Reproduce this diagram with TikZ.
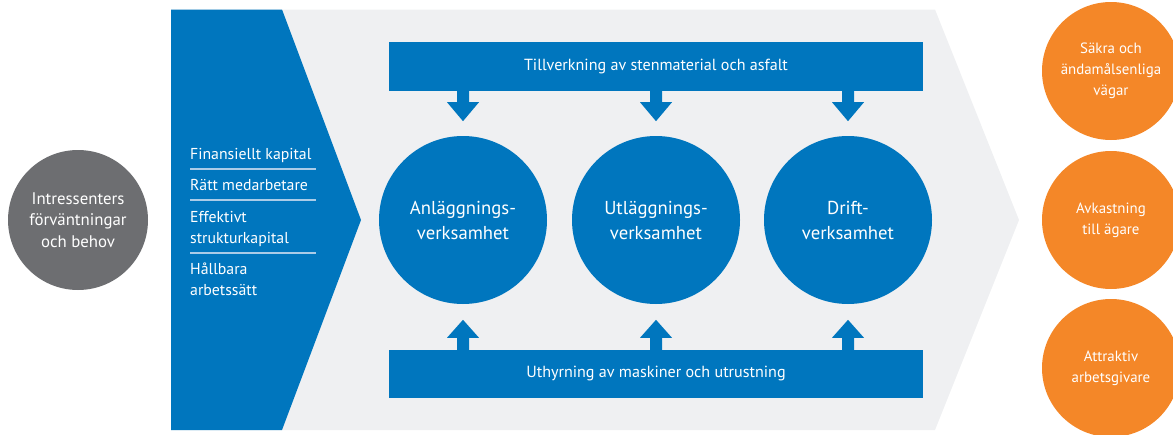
\documentclass[tikz,border=0pt]{standalone}
\usepackage{fontspec}
\setmainfont{PT Sans}
\definecolor{nccblue}{RGB}{0,118,190}
\definecolor{bggray}{RGB}{239,240,242}
\definecolor{darkgray}{RGB}{109,110,113}
\definecolor{nccorange}{RGB}{244,135,40}
\definecolor{seplight}{RGB}{170,204,232}
\tikzset{
  circ/.style={circle, inner sep=0pt, text=white, align=center},
  bluecirc/.style={circ, fill=nccblue, minimum size=168pt, font=\fontsize{18.7}{25}\selectfont},
  graycirc/.style={circ, fill=darkgray, minimum size=140pt, font=\fontsize{16.8}{21.5}\selectfont},
  orangecirc/.style={circ, fill=nccorange, minimum size=138pt, font=\fontsize{14.9}{21}\selectfont},
  bar/.style={rectangle, fill=nccblue, inner sep=0pt, minimum width=534pt, text=white, font=\fontsize{16.1}{19}\selectfont},
  listtext/.style={anchor=base west, inner sep=0pt, text=white, font=\fontsize{15.8}{21}\selectfont, align=left},
  sepline/.style={draw=seplight, line width=1.5pt},
  blockarrow/.style={fill=nccblue}
}
\begin{document}
\begin{tikzpicture}[x=1pt,y=-1pt]
\useasboundingbox (0,0) rectangle (1173,434);
% background chevron
\fill[bggray] (171,9.5) -- (935,9.5) -- (1019,220) -- (935,430) -- (171,430) -- cycle;
% blue input chevron
\fill[nccblue] (171,9.5) -- (282,9.5) -- (361,220) -- (282,430) -- (171,430) -- cycle;
% left gray circle
\node[graycirc] (stake) at (78,220) {Intressenters\\förväntningar\\och behov};
% list (base anchor = baseline of the last line)
\node[listtext] (l1) at (190,159) {Finansiellt kapital};
\node[listtext] (l2) at (190,190) {Rätt medarbetare};
\node[listtext] (l3) at (190,243) {Effektivt\\strukturkapital};
\node[listtext] (l4) at (190,295) {Hållbara\\arbetssätt};
\coordinate (s1a) at (190,169); \coordinate (s1b) at (316,169);
\coordinate (s2a) at (190,200); \coordinate (s2b) at (316,200);
\coordinate (s3a) at (190,253); \coordinate (s3b) at (316,253);
\draw[sepline] (s1a) -- (s1b);
\draw[sepline] (s2a) -- (s2b);
\draw[sepline] (s3a) -- (s3b);
% bars
\node[bar, minimum height=49pt] (top) at (656,66.5) {Tillverkning av stenmaterial och asfalt};
\node[bar, minimum height=48pt] (bot) at (656,374) {Uthyrning av maskiner och utrustning};
% circles
\node[bluecirc] (c1) at (463,220) {Anläggnings-\\verksamhet};
\node[bluecirc] (c2) at (656,220) {Utläggnings-\\verksamhet};
\node[bluecirc] (c3) at (848,220) {Drift-\\verksamhet};
% arrows
\foreach \c in {c1,c2,c3}{
  \fill[blockarrow] (top.south -| \c) ++(-6,0) -- ++(0,11) -- ++(-10,0) -- ++(16,19) -- ++(16,-19) -- ++(-10,0) -- ++(0,-11) -- cycle;
  \fill[blockarrow] (bot.north -| \c) ++(-6,0) -- ++(0,-12) -- ++(-10,0) -- ++(16,-18) -- ++(16,18) -- ++(-10,0) -- ++(0,12) -- cycle;
}
% outcomes
\node[orangecirc] (o1) at (1111,71) {Säkra och\\ändamålsenliga\\vägar};
\node[orangecirc] (o2) at (1111,220) {Avkastning\\till ägare};
\node[orangecirc] (o3) at (1111,368) {Attraktiv\\arbetsgivare};
\end{tikzpicture}
\end{document}
